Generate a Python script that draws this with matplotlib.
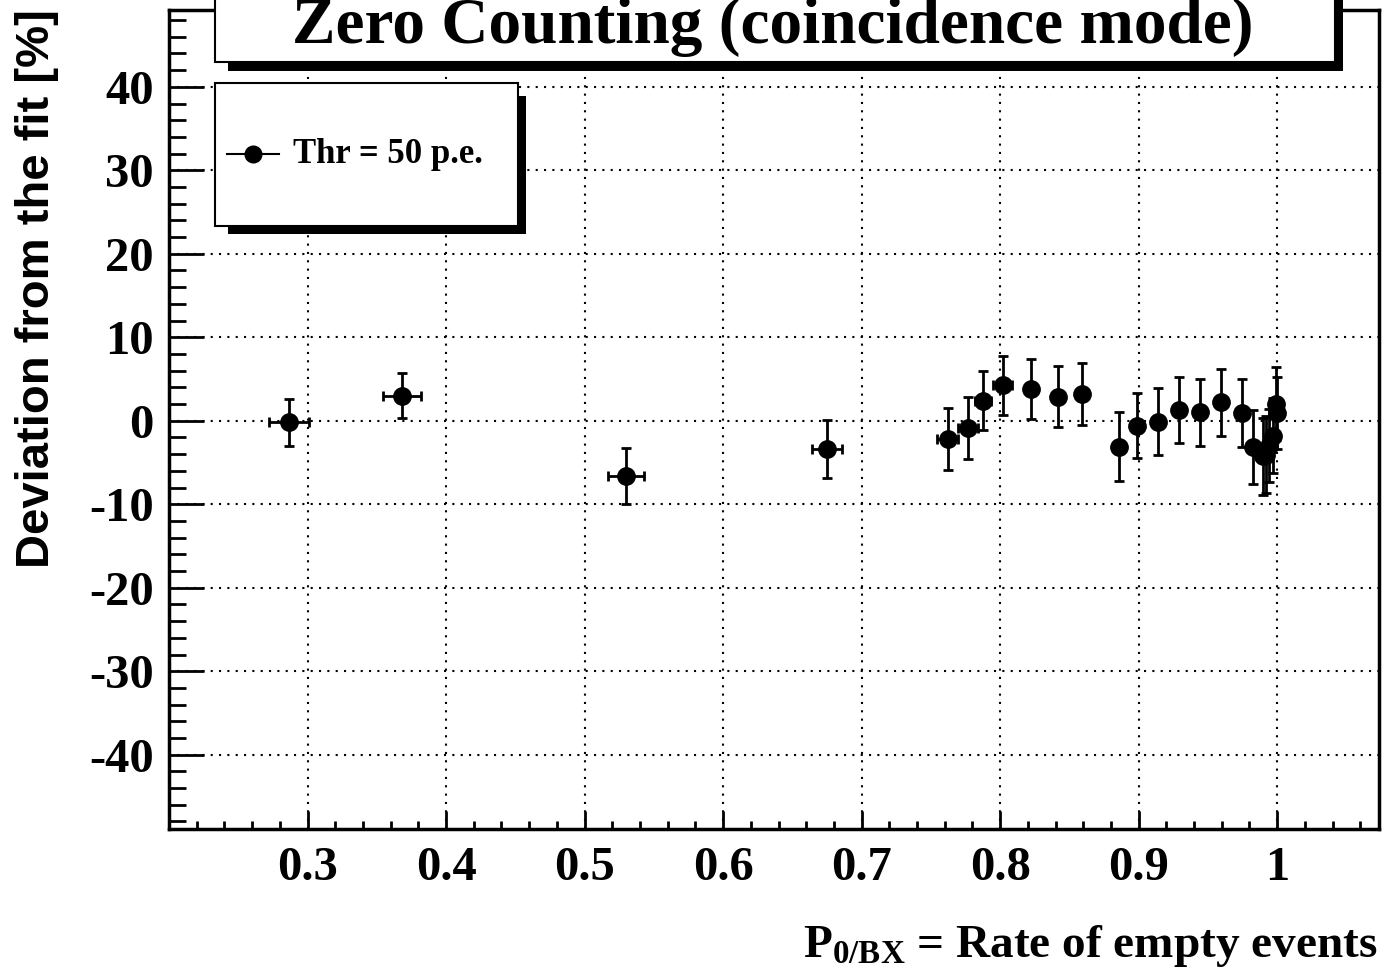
import matplotlib
matplotlib.use("Agg")
import matplotlib.pyplot as plt
from matplotlib.patches import Rectangle
from matplotlib.lines import Line2D
from matplotlib.ticker import MultipleLocator

plt.rcParams['mathtext.fontset'] = 'custom'
plt.rcParams['mathtext.rm'] = 'Liberation Serif:bold'
plt.rcParams['mathtext.it'] = 'Liberation Serif:bold'
plt.rcParams['mathtext.bf'] = 'Liberation Serif:bold'

# P0/BX and deviation from fit (%) with errors
p0 = [0.2868, 0.368, 0.530, 0.675, 0.7622, 0.7766, 0.7875, 0.8019, 0.8222,
      0.8417, 0.8590, 0.8858, 0.8988, 0.9142, 0.9291, 0.9443, 0.9592, 0.9744,
      0.9822, 0.9898, 0.9920, 0.9944, 0.9968, 0.9992, 1.0]
p0_err = [0.0146, 0.0138, 0.013, 0.011, 0.0076, 0.0072, 0.006, 0.0067, 0.004,
          0.004, 0.004, 0.003, 0.003, 0.003, 0.003, 0.002, 0.002, 0.002,
          0.002, 0.001, 0.001, 0.001, 0.001, 0.001, 0.001]
dev = [-0.2, 3.0, -6.6, -3.35, -2.19, -0.88, 2.4, 4.23, 3.8,
       2.9, 3.23, -3.11, -0.6, -0.12, 1.28, 0.99, 2.19, 0.9,
       -3.15, -4.28, -4.07, -2.99, -1.8, 2.04, 0.92]
dev_err = [2.8, 2.7, 3.35, 3.47, 3.7, 3.7, 3.5, 3.5, 3.55,
           3.6, 3.7, 4.1, 3.9, 4.0, 4.0, 4.0, 4.0, 4.1,
           4.4, 4.6, 4.6, 4.4, 4.5, 4.4, 4.3]

xticks = [0.3, 0.4, 0.5, 0.6, 0.7, 0.8, 0.9, 1.0]
xtick_labels = ['0.3', '0.4', '0.5', '0.6', '0.7', '0.8', '0.9', '1']
yticks = [-40, -30, -20, -10, 0, 10, 20, 30, 40]

W, H = 1383, 972
fig = plt.figure(figsize=(W / 100, H / 100), dpi=100)

def fx(px):
    return px / W

def fy(py):
    return 1 - py / H

ax = fig.add_axes([fx(169), fy(829), fx(1379 - 169), (829 - 10) / H])
ax.set_xlim(0.2, 1.0735)
ax.set_ylim(-48.9, 49.2)

ax.errorbar(p0, dev, xerr=p0_err, yerr=dev_err, fmt='o', color='black',
            markersize=12.5, elinewidth=2, capsize=3.5, capthick=2, zorder=3)

serif = 'Liberation Serif'
ax.set_xticks(xticks)
ax.set_xticklabels(xtick_labels, fontfamily=serif, fontweight='bold', fontsize=35)
ax.set_yticks(yticks)
ax.set_yticklabels([str(v) for v in yticks], fontfamily=serif, fontweight='bold', fontsize=35)
ax.xaxis.set_minor_locator(MultipleLocator(0.02))
ax.yaxis.set_minor_locator(MultipleLocator(2))
ax.tick_params(axis='x', which='major', direction='in', length=13, width=2, pad=12)
ax.tick_params(axis='x', which='minor', direction='in', length=6, width=2)
ax.tick_params(axis='y', which='major', direction='in', length=25, width=2, pad=11)
ax.tick_params(axis='y', which='minor', direction='in', length=12, width=2)
for s in ax.spines.values():
    s.set_linewidth(2.5)
ax.grid(True, which='major', color='black', linestyle=(0, (1, 3)), linewidth=1.5)

# title box with shadow
fig.add_artist(Rectangle((fx(228), fy(71)), fx(1343 - 228), 0.2,
                         transform=fig.transFigure, facecolor='black',
                         edgecolor='none', zorder=5))
fig.add_artist(Rectangle((fx(215), fy(62)), fx(1335 - 215), 0.2,
                         transform=fig.transFigure, facecolor='white',
                         edgecolor='black', linewidth=1.5, zorder=6))
fig.text(fx(773), fy(43), 'Zero Counting (coincidence mode)', ha='center',
         va='baseline', fontfamily=serif, fontweight='bold', fontsize=47, zorder=7)

# legend box with shadow
fig.add_artist(Rectangle((fx(228), fy(234)), fx(526 - 228), (234 - 96) / H,
                         transform=fig.transFigure, facecolor='black',
                         edgecolor='none', zorder=5))
fig.add_artist(Rectangle((fx(215), fy(226)), fx(518 - 215), (226 - 83) / H,
                         transform=fig.transFigure, facecolor='white',
                         edgecolor='black', linewidth=1.5, zorder=6))
fig.add_artist(Line2D([fx(227), fx(279)], [fy(154), fy(154)], transform=fig.transFigure,
                      color='black', linewidth=1.5, zorder=7))
fig.add_artist(Line2D([fx(253)], [fy(154)], transform=fig.transFigure, marker='o',
                      markersize=12, color='black', zorder=7))
fig.text(fx(293), fy(163), 'Thr = 50 p.e.', ha='left', va='baseline',
         fontfamily=serif, fontweight='bold', fontsize=25, zorder=7)

# axis titles
fig.text(fx(1378), fy(957), r'P$_{0/BX}$ = Rate of empty events', ha='right',
         va='baseline', fontfamily=serif, fontweight='bold', fontsize=34)
fig.text(fx(37), fy(289), 'Deviation from the fit [%]', rotation=90, ha='center',
         va='center', fontfamily='Liberation Sans', fontweight='bold', fontsize=34)

fig.savefig('out.png', dpi=100)
